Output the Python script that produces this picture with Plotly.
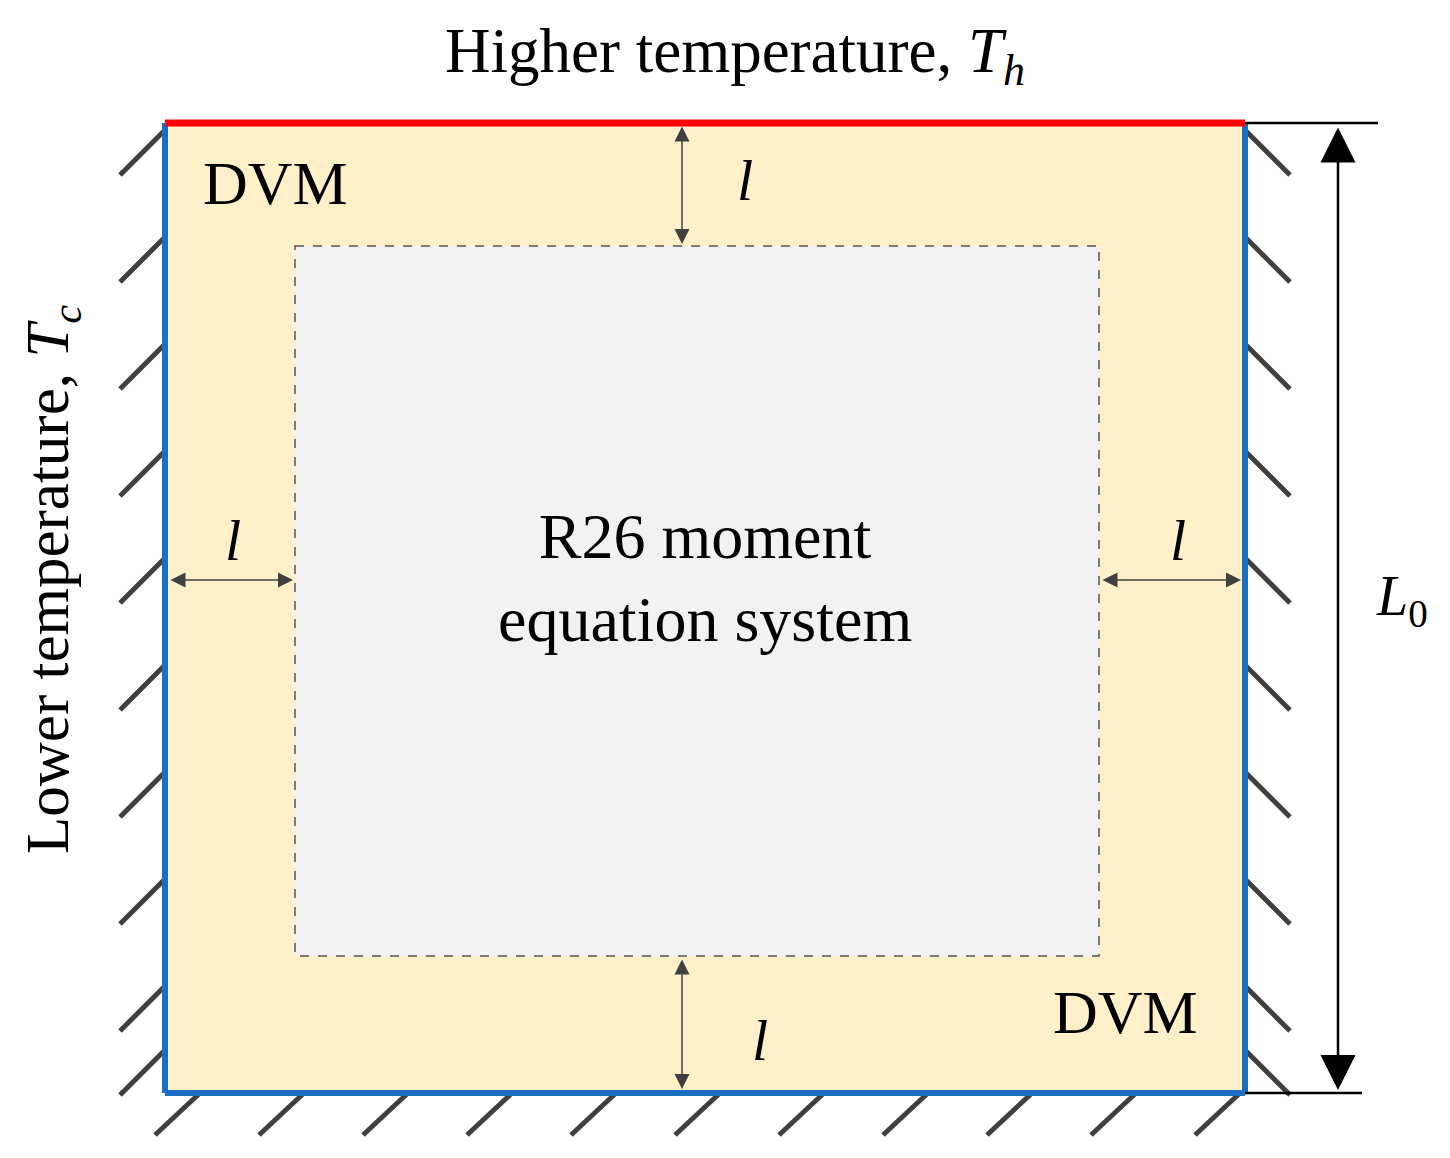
import plotly.graph_objects as go

# Geometry of the diagram (pixel-like units)
outer = [165, 123, 1245, 1093]      # x0, y0, x1, y1
inner = [295, 246, 1099, 956]
left_hatch_y = [130, 237, 344, 451, 558, 665, 772, 879, 986, 1050]
right_hatch_y = [130, 237, 344, 451, 558, 665, 772, 879, 986, 1050]
bottom_hatch_x = [200, 304, 408, 512, 616, 720, 824, 928, 1032, 1136, 1240]
labels = {"top": "Higher temperature, <i>T<sub>h</sub></i>",
          "left": "Lower temperature, <i>T<sub>c</sub></i>",
          "center": "R26 moment<br>equation system",
          "dvm": "DVM", "l": "<i>l</i>", "L0": "<i>L</i><sub>0</sub>"}

F = "Liberation Serif"
fig = go.Figure()
shapes = []
shapes.append(dict(type="rect", x0=outer[0], y0=outer[1], x1=outer[2], y1=outer[3],
                   fillcolor="#FFF0CA", line=dict(width=0), layer="below"))
shapes.append(dict(type="rect", x0=inner[0], y0=inner[1], x1=inner[2], y1=inner[3],
                   fillcolor="#F2F2F2", line=dict(color="#555555", width=1.5, dash="dash")))
hc = "#404040"
for y in left_hatch_y:
    shapes.append(dict(type="line", x0=outer[0], y0=y, x1=outer[0]-45, y1=y+45, line=dict(color=hc, width=5)))
for y in right_hatch_y:
    shapes.append(dict(type="line", x0=outer[2], y0=y, x1=outer[2]+45, y1=y+45, line=dict(color=hc, width=5)))
for x in bottom_hatch_x:
    shapes.append(dict(type="line", x0=x, y0=outer[3], x1=x-45, y1=outer[3]+42, line=dict(color=hc, width=5)))
blue = "#1B6EC2"
shapes.append(dict(type="line", x0=outer[0], y0=outer[1], x1=outer[0], y1=outer[3], line=dict(color=blue, width=6)))
shapes.append(dict(type="line", x0=outer[2], y0=outer[1], x1=outer[2], y1=outer[3], line=dict(color=blue, width=6)))
shapes.append(dict(type="line", x0=outer[0], y0=outer[3], x1=outer[2], y1=outer[3], line=dict(color=blue, width=6)))
shapes.append(dict(type="line", x0=outer[0], y0=outer[1], x1=outer[2], y1=outer[1], line=dict(color="#FF0000", width=7)))
shapes.append(dict(type="line", x0=outer[2], y0=outer[1], x1=1378, y1=outer[1], line=dict(color="black", width=2.5)))
shapes.append(dict(type="line", x0=outer[2], y0=outer[3], x1=1362, y1=outer[3], line=dict(color="black", width=2.5)))

ann = []
def darrow(x0, y0, x1, y1, color="#404040", w=1.5, size=2.0):
    ann.append(dict(x=x1, y=y1, ax=x0, ay=y0, xref="x", yref="y", axref="x", ayref="y",
                    showarrow=True, arrowhead=2, startarrowhead=2, arrowside="end+start",
                    arrowsize=size, startarrowsize=size, arrowwidth=w, arrowcolor=color, text=""))
darrow(682, outer[1]+2, 682, inner[1]-2)
darrow(682, inner[3]+2, 682, outer[3]-4)
darrow(outer[0]+4, 580, inner[0]-2, 580)
darrow(inner[2]+2, 580, outer[2]-4, 580)
darrow(1338, outer[1]+3, 1338, outer[3]-3, color="black", w=2.5, size=2.8)

def txt(x, y, t, s, angle=0):
    ann.append(dict(x=x, y=y, xref="x", yref="y", text=t, showarrow=False, textangle=angle,
                    font=dict(family=F, size=s, color="black")))
txt(735, 55, labels["top"], 63)
txt(52, 580, labels["left"], 61, -90)
txt(705, 578, labels["center"], 64)
txt(275, 183, labels["dvm"], 62)
txt(1125, 1012, labels["dvm"], 62)
txt(745, 180, labels["l"], 58)
txt(233, 540, labels["l"], 58)
txt(1178, 540, labels["l"], 58)
txt(760, 1040, labels["l"], 58)
txt(1402, 600, labels["L0"], 56)

fig.update_layout(width=1450, height=1158, margin=dict(l=0, r=0, t=0, b=0),
                  plot_bgcolor="white", paper_bgcolor="white", shapes=shapes, annotations=ann,
                  xaxis=dict(range=[8, 1458], visible=False, fixedrange=True),
                  yaxis=dict(range=[1166, 8], visible=False, fixedrange=True),
                  showlegend=False)
fig.write_html("out.html")
